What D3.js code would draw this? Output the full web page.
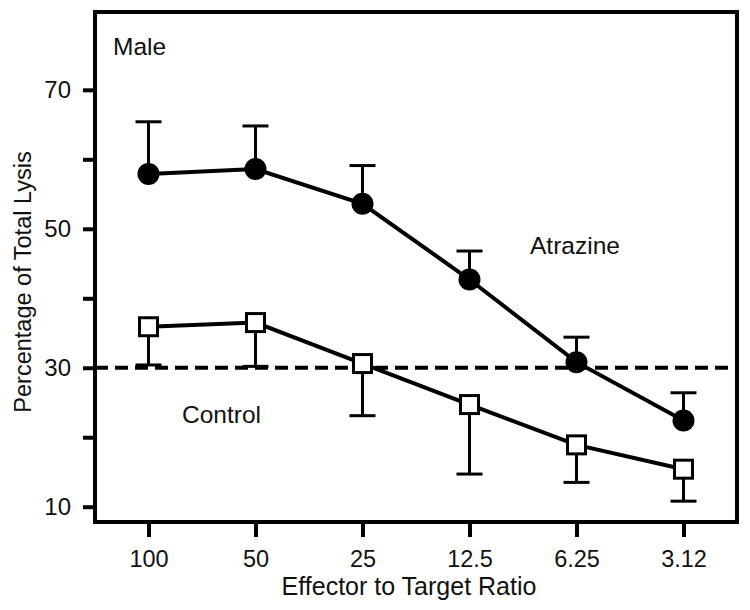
<!DOCTYPE html>
<html><head><meta charset="utf-8">
<script src="https://cdn.jsdelivr.net/npm/d3@7"></script>
<style>body{margin:0;background:#fff}svg{display:block}</style>
</head><body><svg id="c" width="750" height="610"></svg>
<script>
const categories = ["100","50","25","12.5","6.25","3.12"];
const atrazine = [57.9, 58.6, 53.6, 42.7, 30.8, 22.4];
const atrazineErrTop = [65.4, 64.8, 59.1, 46.8, 34.4, 26.4];
const control = [35.9, 36.5, 30.6, 24.7, 18.9, 15.4];
const controlErrBottom = [30.4, 30.2, 23.1, 14.7, 13.5, 10.8];
const yTickValues = [10, 20, 30, 40, 50, 60, 70];
const yTickLabels = ["10", "", "30", "", "50", "", "70"];
const referenceLevel = 30;

const FONT = "'Liberation Sans', Arial, Helvetica, sans-serif";
const svg = d3.select("#c");
const L = 95, R = 737, T = 12, B = 522;
const x = d3.scalePoint().domain(categories).range([L, R]).padding(0.5);
const y = d3.scaleLinear().domain([7.8, 81.2]).range([B, T]);

// axes
const yAxis = d3.axisLeft(y).tickValues(yTickValues)
  .tickFormat((d,i) => yTickLabels[i]).tickSize(12).tickPadding(12);
const gy = svg.append("g").attr("transform", `translate(${L},0)`).call(yAxis);
gy.select(".domain").remove();
gy.selectAll(".tick line").attr("stroke","#000").attr("stroke-width",4);
gy.selectAll(".tick text").attr("font-family",FONT).attr("font-size",24).attr("fill","#111");

const xAxis = d3.axisBottom(x).tickSize(15).tickPadding(13);
const gx = svg.append("g").attr("transform", `translate(0,${B})`).call(xAxis);
gx.select(".domain").remove();
gx.selectAll(".tick line").attr("stroke","#000").attr("stroke-width",4);
gx.selectAll(".tick text").attr("font-family",FONT).attr("font-size",23.5).attr("fill","#111");

// reference dashed line
svg.append("line").attr("x1",L).attr("x2",R).attr("y1",y(referenceLevel)).attr("y2",y(referenceLevel))
  .attr("stroke","#000").attr("stroke-width",4).attr("stroke-dasharray","13,7");

// frame
svg.append("rect").attr("x",L).attr("y",T).attr("width",R-L).attr("height",B-T)
  .attr("fill","none").attr("stroke","#000").attr("stroke-width",4);

const cap = 13;
function errBars(vals, ends) {
  const g = svg.append("g").attr("stroke","#000").attr("stroke-width",3);
  categories.forEach((c,i) => {
    g.append("line").attr("x1",x(c)).attr("x2",x(c)).attr("y1",y(vals[i])).attr("y2",y(ends[i]));
    g.append("line").attr("x1",x(c)-cap).attr("x2",x(c)+cap).attr("y1",y(ends[i])).attr("y2",y(ends[i]));
  });
}
errBars(atrazine, atrazineErrTop);
errBars(control, controlErrBottom);

const line = d3.line().x((d,i)=>x(categories[i])).y(d=>y(d));
svg.append("path").datum(atrazine).attr("d",line).attr("fill","none").attr("stroke","#000").attr("stroke-width",4);
svg.append("path").datum(control).attr("d",line).attr("fill","none").attr("stroke","#000").attr("stroke-width",4);

svg.append("g").selectAll("circle").data(atrazine).join("circle")
  .attr("cx",(d,i)=>x(categories[i])).attr("cy",d=>y(d)).attr("r",11).attr("fill","#000");
const s = 18;
svg.append("g").selectAll("rect").data(control).join("rect")
  .attr("x",(d,i)=>x(categories[i])-s/2).attr("y",d=>y(d)-s/2).attr("width",s).attr("height",s)
  .attr("fill","#fff").attr("stroke","#000").attr("stroke-width",3);

// labels
function txt(t, xx, yy, opts={}) {
  return svg.append("text").attr("x",xx).attr("y",yy).text(t)
    .attr("font-family",FONT).attr("font-size",opts.size||24.5).attr("fill","#111")
    .attr("text-anchor",opts.anchor||"start");
}
txt("Male", 113, 55);
txt("Atrazine", 530, 254);
txt("Control", 182, 423);
txt("Effector to Target Ratio", 409, 595, {anchor:"middle", size:25});
svg.append("text").attr("transform","translate(31,282) rotate(-90)").attr("text-anchor","middle")
  .attr("font-family",FONT).attr("font-size",23.5).attr("fill","#111").text("Percentage of Total Lysis");
</script></body></html>
